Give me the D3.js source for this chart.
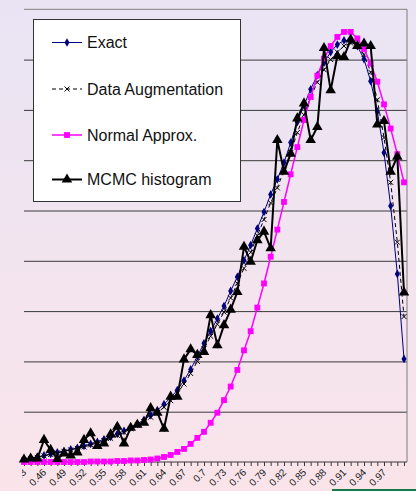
<!DOCTYPE html>
<html>
<head>
<meta charset="utf-8">
<script src="https://cdn.jsdelivr.net/npm/d3@7"></script>
<style>
  html, body { margin: 0; padding: 0; }
  body { width: 416px; height: 491px; overflow: hidden; }
  text { font-family: "Liberation Sans", Arial, sans-serif; }
</style>
</head>
<body>
<div id="vis1"></div>
<script>
// x categories 0.43 .. 1.00
var categories = ["0.43","0.44","0.45","0.46","0.47","0.48","0.49","0.5","0.51","0.52",
  "0.53","0.54","0.55","0.56","0.57","0.58","0.59","0.6","0.61","0.62",
  "0.63","0.64","0.65","0.66","0.67","0.68","0.69","0.7","0.71","0.72",
  "0.73","0.74","0.75","0.76","0.77","0.78","0.79","0.8","0.81","0.82",
  "0.83","0.84","0.85","0.86","0.87","0.88","0.89","0.9","0.91","0.92",
  "0.93","0.94","0.95","0.96","0.97","0.98","0.99","1"];

// labels Excel printed (every third category)
var tickLabels = ["0.43","0.46","0.49","0.52","0.55","0.58","0.61","0.64","0.67","0.7",
  "0.73","0.76","0.79","0.82","0.85","0.88","0.91","0.94","0.97"];

var exact = [0.06,0.08,0.10,0.13,0.16,0.19,0.22,0.25,0.28,0.32,
  0.36,0.40,0.45,0.50,0.56,0.62,0.69,0.76,0.84,0.93,
  1.03,1.15,1.28,1.43,1.62,1.84,2.10,2.36,2.60,2.85,
  3.10,3.40,3.68,4.01,4.31,4.64,4.97,5.32,5.62,5.95,
  6.35,6.76,7.09,7.41,7.69,7.94,8.15,8.30,8.38,8.38,
  8.27,8.01,7.57,6.97,6.15,5.09,3.74,2.05];

var dataAug = [0.05,0.07,0.09,0.12,0.15,0.18,0.21,0.24,0.27,0.30,
  0.34,0.38,0.42,0.47,0.53,0.59,0.66,0.73,0.80,0.89,
  0.98,1.09,1.22,1.37,1.55,1.76,2.00,2.25,2.50,2.74,
  2.98,3.26,3.55,3.85,4.17,4.50,4.82,5.15,5.45,5.80,
  6.15,6.55,6.90,7.25,7.55,7.80,8.00,8.15,8.27,8.33,
  8.30,8.10,7.75,7.20,6.45,5.56,4.37,2.89];

var normalApprox = [0.00,0.00,0.00,0.00,0.00,0.00,0.00,0.00,0.00,0.00,
  0.01,0.01,0.01,0.01,0.02,0.02,0.03,0.03,0.04,0.05,
  0.07,0.10,0.14,0.20,0.26,0.36,0.48,0.60,0.78,0.98,
  1.23,1.50,1.83,2.22,2.60,3.07,3.55,4.08,4.62,5.17,
  5.72,6.26,6.80,7.26,7.68,8.02,8.27,8.45,8.55,8.55,
  8.42,8.21,7.92,7.56,7.11,6.63,6.12,5.56];

var mcmc = [0.05,0.07,0.07,0.44,0.24,0.06,0.17,0.13,0.19,0.44,
  0.57,0.32,0.37,0.55,0.70,0.37,0.68,0.74,0.78,1.07,
  0.98,0.66,1.30,1.30,2.04,2.24,2.13,2.19,2.92,2.32,
  2.72,3.03,3.38,4.28,3.98,4.41,4.58,4.25,6.40,5.77,
  6.13,6.83,7.13,6.40,6.66,8.23,7.39,8.07,8.05,8.40,
  8.27,8.32,8.27,6.71,6.78,5.77,6.07,3.37];

var gridValues = [1,2,3,4,5,6,7,8];

function drawChart() {
  var seriesList = [
    {name: "Exact", values: exact, color: "#000080", width: 1, dash: null,
     symbol: d3.symbolDiamond, size: 22, fill: "#000080", stroke: "none"},
    {name: "Data Augmentation", values: dataAug, color: "#000000", width: 1, dash: "4,3",
     symbol: d3.symbolTimes, size: 18, fill: "none", stroke: "#000000"},
    {name: "Normal Approx.", values: normalApprox, color: "#ff00ff", width: 1.5, dash: null,
     symbol: d3.symbolSquare, size: 34, fill: "#ff00ff", stroke: "none"},
    {name: "MCMC histogram", values: mcmc, color: "#000000", width: 2, dash: null,
     symbol: d3.symbolTriangle, size: 48, fill: "#000000", stroke: "none"}
  ];

  var W = 416, H = 491;
  var pLeft = 24, pRight = 407, pTop = 9.3, pBottom = 462;

  var svg = d3.select("#vis1").append("svg")
    .attr("width", W).attr("height", H);

  var defs = svg.append("defs");
  var grad = defs.append("linearGradient").attr("id", "bg")
    .attr("x1", 0).attr("y1", 0).attr("x2", 0).attr("y2", 1);
  grad.append("stop").attr("offset", "0%").attr("stop-color", "#e9e4f4");
  grad.append("stop").attr("offset", "100%").attr("stop-color", "#fae4ea");

  defs.append("clipPath").attr("id", "cut")
    .append("rect").attr("x", 22).attr("y", -10).attr("width", W).attr("height", H);

  svg.append("rect").attr("width", W).attr("height", H).attr("fill", "url(#bg)");

  var x = d3.scalePoint().domain(categories).range([pLeft, 404]);
  var y = d3.scaleLinear().domain([0, 9]).range([pBottom, pTop]);

  // gridlines
  svg.append("g")
    .attr("transform", "translate(" + pLeft + ",0)")
    .call(d3.axisLeft(y).tickValues(gridValues).tickSize(-(pRight - pLeft)).tickFormat(""))
    .call(function(g) {
      g.select(".domain").remove();
      g.selectAll("line").attr("stroke", "#3a3a3a");
    });

  // plot border (top + right)
  svg.append("path")
    .attr("d", "M" + pLeft + "," + pTop + "H" + pRight + "V" + pBottom)
    .attr("fill", "none").attr("stroke", "#7f7f7f");

  // x axis
  var xAxis = svg.append("g")
    .attr("transform", "translate(0," + pBottom + ")")
    .attr("clip-path", "url(#cut)")
    .call(d3.axisBottom(x).tickSize(4).tickSizeOuter(0).tickFormat(""));
  xAxis.select(".domain").attr("stroke", "#3a3a3a").attr("d", "M" + pLeft + ",0H" + pRight);
  xAxis.selectAll(".tick line").attr("stroke", "#3a3a3a");

  xAxis.selectAll("text.lab")
    .data(tickLabels)
    .enter().append("text").attr("class", "lab")
    .attr("transform", function(d) { return "translate(" + (x(d) + 3) + ",11) rotate(-45)"; })
    .attr("text-anchor", "end")
    .attr("font-size", 10)
    .attr("fill", "#222")
    .text(function(d) { return d; });

  // series
  var line = d3.line()
    .x(function(d, i) { return x(categories[i]); })
    .y(function(d) { return y(d); });

  seriesList.forEach(function(s) {
    var g = svg.append("g");
    g.append("path")
      .attr("d", line(s.values))
      .attr("fill", "none")
      .attr("stroke", s.color)
      .attr("stroke-width", s.width)
      .attr("stroke-dasharray", s.dash);
    g.selectAll("path.mk")
      .data(s.values)
      .enter().append("path").attr("class", "mk")
      .attr("transform", function(d, i) { return "translate(" + x(categories[i]) + "," + y(d) + ")"; })
      .attr("d", d3.symbol().type(s.symbol).size(s.size))
      .attr("fill", s.fill)
      .attr("stroke", s.stroke);
  });

  // legend
  var legend = svg.append("g");
  legend.append("rect")
    .attr("x", 33.5).attr("y", 19.5).attr("width", 207).attr("height", 182)
    .attr("fill", "#ffffff").attr("stroke", "#333");

  var legendY = [42.5, 89, 135, 179.5];
  seriesList.forEach(function(s, i) {
    var ly = legendY[i];
    legend.append("line")
      .attr("x1", 52).attr("x2", 82).attr("y1", ly).attr("y2", ly)
      .attr("stroke", s.color).attr("stroke-width", s.width)
      .attr("stroke-dasharray", s.dash);
    legend.append("path")
      .attr("transform", "translate(67," + ly + ")")
      .attr("d", d3.symbol().type(s.symbol).size(s.size))
      .attr("fill", s.fill).attr("stroke", s.stroke);
    legend.append("text")
      .attr("x", 87).attr("y", ly + 5.8)
      .attr("font-size", 16).attr("fill", "#111")
      .text(s.name);
  });

  // green edge at bottom right
  svg.append("line")
    .attr("x1", 332).attr("x2", 416).attr("y1", 490).attr("y2", 490)
    .attr("stroke", "#177a4c").attr("stroke-width", 2);
}

drawChart();
</script>
</body>
</html>
